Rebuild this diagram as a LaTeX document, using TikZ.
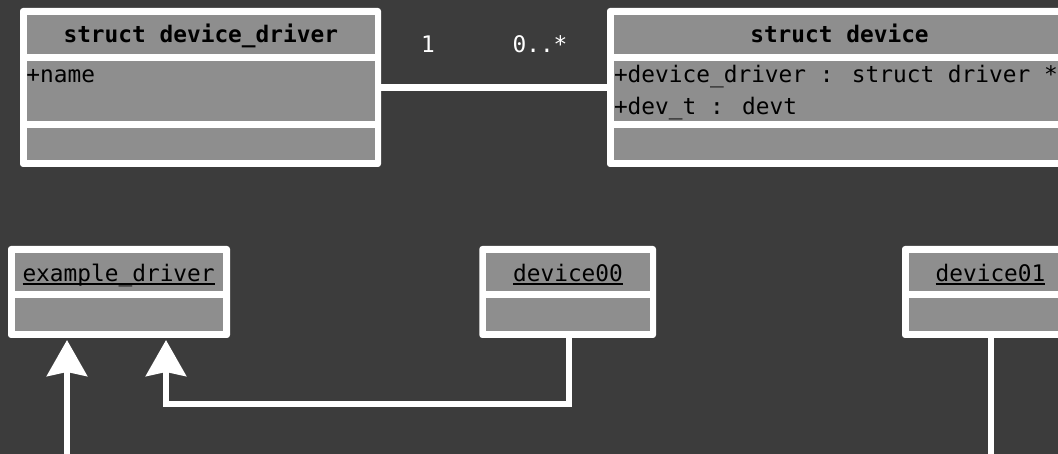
\documentclass[tikz,border=0pt]{standalone}
\usepackage{fontspec}
\newfontfamily\umlfont{DejaVu Sans Mono}
\usetikzlibrary{arrows.meta}
\definecolor{canvas}{HTML}{3C3C3C}
\definecolor{panel}{HTML}{8E8E8E}
\newcommand\umltext{\umlfont\fontsize{22.8}{27}\selectfont}
% underline set just below the baseline
\newcommand\uln[1]{\setbox0=\hbox{#1}\rlap{\rule[-3.5pt]{\wd0}{2pt}}\box0}
% rectangle node from its corners: style, name, x1, y1, x2, y2
\newcommand\block[6]{\node[#1, minimum width={#5-#3}, minimum height={#6-#4}] (#2) at ({(#3+#5)/2},{(#4+#6)/2}) {};}

\begin{document}
\begin{tikzpicture}[x=1pt,y=-1pt,
  frame/.style={fill=white, rounded corners=3pt, inner sep=0pt, outer sep=0pt},
  cell/.style={fill=panel, inner sep=0pt, outer sep=0pt},
  txt/.style={font=\umltext, text=black, inner sep=0pt, outer sep=0pt},
  mult/.style={font=\umltext, text=white, inner sep=0pt, outer sep=0pt},
  link/.style={draw=white, line width=6.5pt},
  realize/.style={link, -{Stealth[length=36pt,width=40pt,inset=4pt]}, shorten >=2pt}]

\useasboundingbox (0,0) rectangle (1058,454);
\clip (0,0) rectangle (1058,454);
\fill[canvas] (0,0) rectangle (1058,454);

% class: struct device_driver
\block{frame}{drv}{20}{8}{381}{167}
\block{cell}{drvhead}{26.7}{15}{375}{53.7}
\block{cell}{drvattr}{26.7}{61}{375}{121}
\block{cell}{drvops}{26.7}{128}{375}{160}
\node[txt, anchor=base] (drvname) at (200.8,42.7) {\bfseries struct device\_driver};
\node[txt, anchor=base west] (drvf1) at (26.5,83) {+name};

% class: struct device
\block{frame}{dev}{607}{8}{1073}{167}
\block{cell}{devhead}{614}{15}{1066}{53.7}
\block{cell}{devattr}{614}{61}{1066}{121}
\block{cell}{devops}{614}{128}{1066}{160}
\node[txt, anchor=base] (devname) at (839.5,42.7) {\bfseries struct device};
\node[txt, anchor=base west] (devf1) at (614,82.7) {+device\_driver : struct driver *};
\node[txt, anchor=base west] (devf2) at (614,115) {+dev\_t : devt};

% association with multiplicities
\draw[link] (drv.east |- 0,87.5) -- (dev.west |- 0,87.5);
\node[mult, anchor=base] (m1) at (428,52.3) {1};
\node[mult, anchor=base] (m2) at (540,52.3) {0..*};

% object: example_driver
\block{frame}{ex}{8}{246}{230}{338}
\block{cell}{exhead}{14.7}{252.7}{223.3}{291}
\block{cell}{exbody}{14.7}{298.3}{223.3}{331}
\node[txt, anchor=base] (exname) at (118.6,281.7) {\uln{example\_driver}};

% object: device00
\block{frame}{d0}{479.3}{246}{656}{338}
\block{cell}{d0head}{486}{252.7}{650}{291}
\block{cell}{d0body}{486}{298.3}{650}{331}
\node[txt, anchor=base] (d0name) at (568,281.7) {\uln{device00}};

% object: device01
\block{frame}{d1}{902}{246}{1080}{338}
\block{cell}{d1head}{909}{252.7}{1073}{291}
\block{cell}{d1body}{909}{298.3}{1073}{331}
\node[txt, anchor=base] (d1name) at (990.5,281.7) {\uln{device01}};

% links from the device objects up to the driver object
\coordinate (tipB) at (166,338);
\coordinate (tipA) at (67,338);
\draw[realize] (d0.south -| 569,0) |- (tipB |- 0,404) -- (tipB);
\draw[realize] (d1.south -| 991,0) |- (tipA |- 0,490) -- (tipA);
\end{tikzpicture}
\end{document}
